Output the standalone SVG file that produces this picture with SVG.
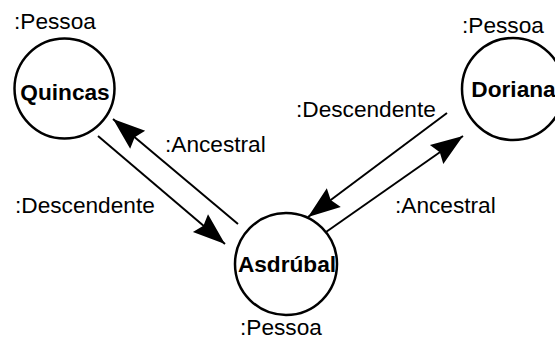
<svg xmlns="http://www.w3.org/2000/svg" width="555" height="340" viewBox="0 0 555 340">
<style>
.node{fill:#fff;stroke:#000;stroke-width:2.5}
.lbl{font-family:"Liberation Sans",Arial,sans-serif;font-size:22.67px;fill:#000}
.name{font-family:"Liberation Sans",Arial,sans-serif;font-size:22.67px;font-weight:bold;fill:#000;text-anchor:middle}
.conn{fill:none;stroke:#000;stroke-width:2;marker-end:url(#arr)}
</style>
<defs>
<marker id="arr" markerUnits="userSpaceOnUse" markerWidth="40" markerHeight="40" viewBox="-32 -16 36 32" refX="0" refY="0" orient="auto">
<path d="M0,0 L-29,-10.5 L-25.5,0 L-29,10.5 Z" fill="#000"/>
</marker>
</defs>
<rect width="555" height="340" fill="#fff"/>
<g id="connectors">
<line class="conn" x1="98" y1="136" x2="225" y2="244"/>
<line class="conn" x1="238" y1="224" x2="113" y2="119"/>
<line class="conn" x1="447" y1="113" x2="308" y2="217"/>
<line class="conn" x1="326" y1="232" x2="463" y2="136"/>
<text class="lbl" x="165" y="152">:Ancestral</text>
<text class="lbl" x="15" y="213">:Descendente</text>
<text class="lbl" x="296" y="117">:Descendente</text>
<text class="lbl" x="395" y="213">:Ancestral</text>
</g>
<g id="quincas">
<circle class="node" cx="64.5" cy="88.5" r="50"/>
<text class="name" x="65" y="100">Quincas</text>
<text class="lbl" x="14" y="29">:Pessoa</text>
</g>
<g id="doriana">
<circle class="node" cx="513" cy="89" r="51"/>
<text class="name" x="513.5" y="97">Doriana</text>
<text class="lbl" x="462" y="33">:Pessoa</text>
</g>
<g id="asdrubal">
<circle class="node" cx="286" cy="264" r="51"/>
<text class="name" x="287" y="272">Asdrúbal</text>
<text class="lbl" x="240" y="335">:Pessoa</text>
</g>
</svg>
